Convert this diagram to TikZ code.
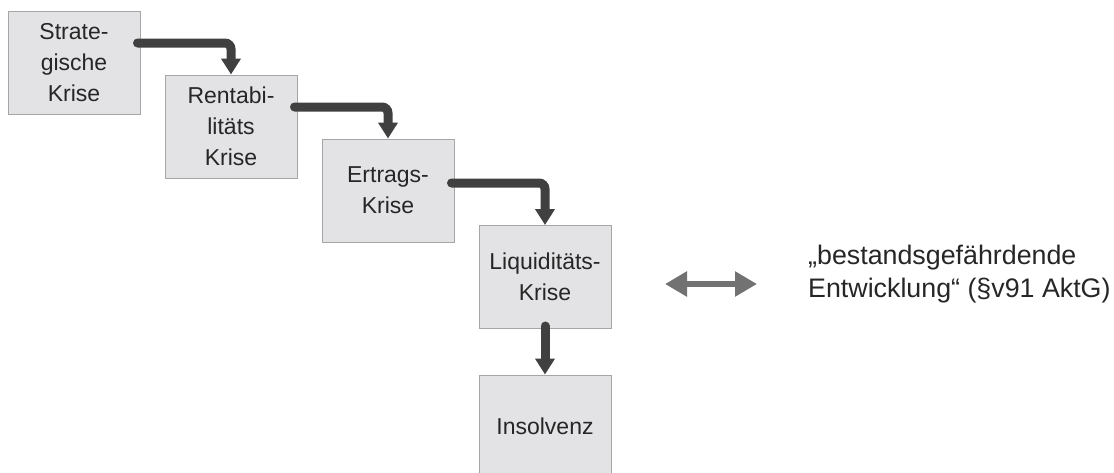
\documentclass[tikz,border=0pt]{standalone}
\usepackage{fontspec}
\setmainfont{Liberation Sans}
\usetikzlibrary{arrows.meta,positioning,calc}
\definecolor{boxfill}{HTML}{E3E3E5}
\definecolor{boxline}{HTML}{A6A6A6}
\definecolor{conncol}{HTML}{404040}
\definecolor{dblcol}{HTML}{727272}
\tikzset{
  stepbox/.style={draw=boxline, fill=boxfill, line width=1pt, minimum width=132pt, minimum height=103pt, align=center, inner sep=0pt, font=\fontsize{23}{31}\selectfont, text=black!85},
  conn/.style={draw=conncol, line width=9pt, line cap=round, rounded corners=6pt, -{Triangle[width=19pt,length=16pt]}},
  dbl/.style={draw=dblcol, line width=6pt, {Triangle[width=24pt,length=22pt]}-{Triangle[width=24pt,length=22pt]}},
  note/.style={font=\fontsize{26.8}{32.5}\selectfont, align=left, anchor=west, inner sep=0pt, text=black!85}
}
\begin{document}
\begin{tikzpicture}[x=1pt,y=-1pt]
\useasboundingbox (0,0) rectangle (1114,472);
\begin{scope}
\clip (0,0) rectangle (1114,472);
\node[stepbox] (b1) at (74,62.5) {Strate-\\gische\\Krise};
\node[stepbox] (b2) at (231,126.5) {Rentabi-\\litäts\\Krise};
\node[stepbox] (b3) at (388,190.5) {Ertrags-\\Krise};
\node[stepbox] (b4) at (545,277) {Liquiditäts-\\Krise};
\node[stepbox] (b5) at (545,426.5) {Insolvenz};
\draw[conn] ([xshift=-3pt,yshift=19.5pt]b1.east) -| (b2.north);
\draw[conn] ([xshift=-3pt,yshift=19.5pt]b2.east) -| (b3.north);
\draw[conn] ([xshift=-3pt,yshift=7.5pt]b3.east) -| (b4.north);
\draw[conn] ([yshift=3pt]b4.south) -- (b5.north);
\coordinate (dl) at (665,284);
\coordinate (dr) at (757,284);
\draw[dbl] (dl) -- (dr);
\node[note] (t) at (808,274) {„bestandsgefährdende\\Entwicklung“ (§v91 AktG)};
\end{scope}
\end{tikzpicture}
\end{document}
